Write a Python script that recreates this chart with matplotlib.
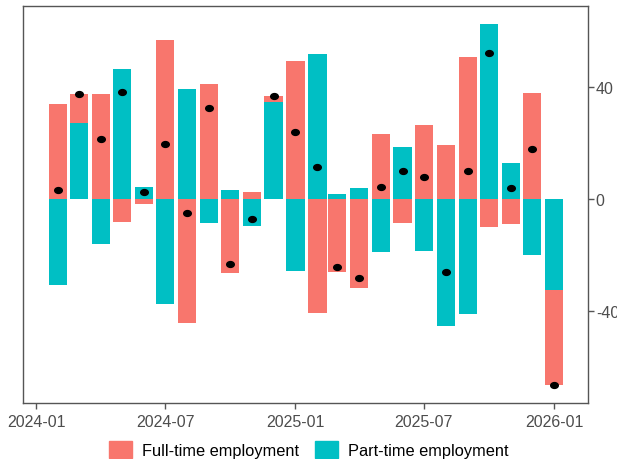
import matplotlib.pyplot as plt
import matplotlib.dates as mdates
from matplotlib.path import Path
from matplotlib.transforms import Affine2D
import numpy as np
import pandas as pd

plt.rcParams['font.family'] = ['Liberation Sans', 'DejaVu Sans']

# monthly change, thousands
months = ["2024-02", "2024-03", "2024-04", "2024-05", "2024-06", "2024-07",
          "2024-08", "2024-09", "2024-10", "2024-11", "2024-12", "2025-01",
          "2025-02", "2025-03", "2025-04", "2025-05", "2025-06", "2025-07",
          "2025-08", "2025-09", "2025-10", "2025-11", "2025-12", "2026-01"]
full_time = [34.2, 10.4, 37.5, -8.1, -1.7, 57.2, -44.5, 41.4, -26.4, 2.4, 2.2, 49.6,
             -40.7, -26.3, -32.0, 23.3, -8.4, 26.4, 19.5, 51.1, -10.1, -8.9, 38.1, -34.3]
part_time = [-30.8, 27.4, -16.1, 46.5, 4.4, -37.5, 39.6, -8.6, 3.1, -9.5, 34.8, -25.7,
             52.1, 1.9, 3.8, -18.9, 18.5, -18.6, -45.5, -41.2, 62.6, 12.8, -20.0, -32.5]
series_names = ["Full-time employment", "Part-time employment"]
series_colors = ["#F8766D", "#00BFC4"]

dates = pd.to_datetime([m + "-01" for m in months])
ft = np.array(full_time)
pt = np.array(part_time)
total = ft + pt

fig = plt.figure(figsize=(6.17, 4.60), dpi=100)
ax = fig.add_axes([0.0378, 0.1217, 0.9144, 0.8624])

width = 25.5  # days

# part-time stacked first (next to zero), full-time on top of it
pt_base = np.zeros(len(pt))
ft_base = np.where(np.sign(ft) == np.sign(pt), pt, 0)

ax.bar(dates, pt, width=width, bottom=pt_base, color=series_colors[1], zorder=2)
ax.bar(dates, ft, width=width, bottom=ft_base, color=series_colors[0], zorder=2)

# slightly wide dot for the total
ell = Path.unit_circle().transformed(Affine2D().scale(1.3, 1.0))
ax.scatter(dates, total, marker=ell, s=30, color="black", zorder=3)

ax.set_ylim(-73.1, 69.1)
ax.set_xlim(pd.Timestamp("2023-12-14"), pd.Timestamp("2026-02-17"))

ax.yaxis.tick_right()
ax.set_yticks([-40, 0, 40])
ax.set_yticklabels(["-40", "0", "40"])
ax.xaxis.set_major_locator(mdates.MonthLocator(bymonth=[1, 7]))
ax.xaxis.set_major_formatter(mdates.DateFormatter("%Y-%m"))

for s in ax.spines.values():
    s.set_color("#555555")
    s.set_linewidth(1.0)
ax.tick_params(colors="#555555", labelcolor="#4D4D4D", labelsize=11.5,
               length=4, width=1.0, pad=2)
ax.tick_params(axis="x", pad=4)

# legend below the plot
handles = [plt.Rectangle((0, 0), 1, 1, color=c) for c in series_colors]
fig.legend(handles, series_names, loc="lower center", ncol=2, frameon=False,
           fontsize=11.8, bbox_to_anchor=(0.5, -0.03), handlelength=1.4,
           handleheight=1.2, handletextpad=0.6, columnspacing=1.0)

fig.savefig("out.png", dpi=100)
